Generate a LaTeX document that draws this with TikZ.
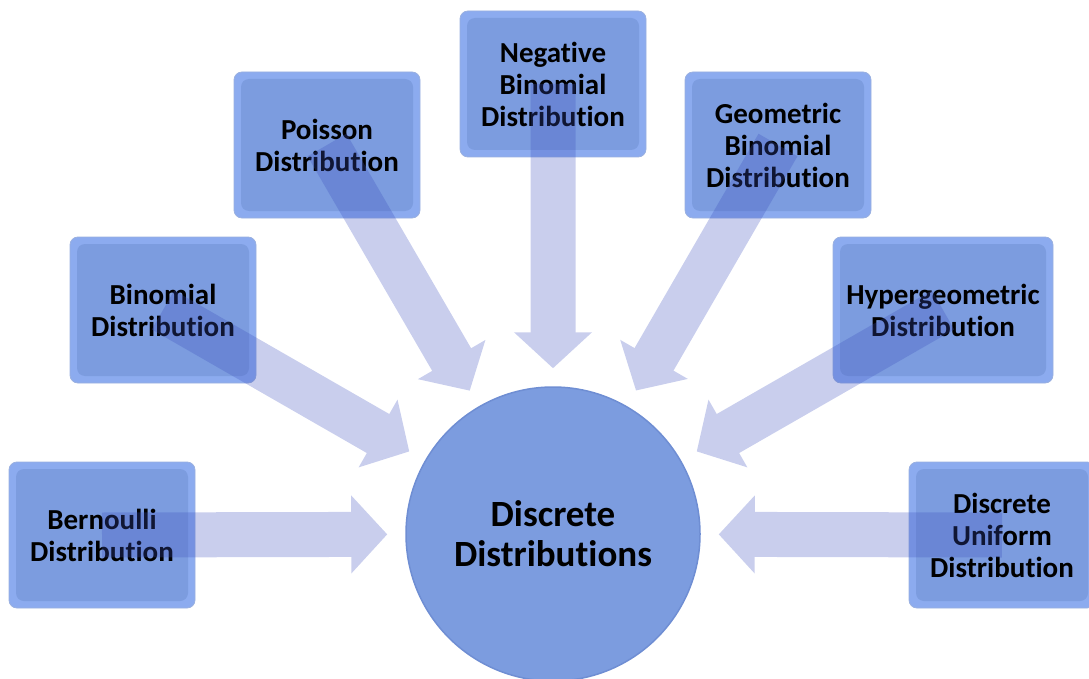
\documentclass[tikz,border=0pt]{standalone}
\usepackage{fontspec}
\setmainfont{Carlito}[Ligatures=NoCommon]
\usepackage{tikz}
\usetikzlibrary{positioning,arrows.meta}
\definecolor{boxfill}{HTML}{7C9CDF}
\definecolor{boxlight}{HTML}{8CABEF}
\definecolor{boxline}{HTML}{6F8ED3}
\definecolor{arrfill}{RGB}{60,80,190}
\tikzset{
  box/.style  = {rectangle, rounded corners=8pt, draw=boxline!70, line width=0.8pt,
                 fill=boxlight, align=center, minimum width=186pt, minimum height=146pt,
                 font=\bfseries\fontsize{29}{32}\selectfont, inner sep=2pt,
                 path picture={\fill[boxfill]
                   ([shift={(7pt,-7pt)}]path picture bounding box.north west) rectangle
                   ([shift={(-7pt,7pt)}]path picture bounding box.south east);}},
  widebox/.style = {box, minimum width=220pt},
  hub/.style  = {circle, minimum size=294pt, fill=boxfill, draw=boxline, line width=1.5pt,
                 align=center, font=\bfseries\fontsize{37}{40}\selectfont},
  fatarr/.style = {line width=45pt, draw=arrfill,
                   -{Triangle[width=76pt,length=36pt]}, shorten >=18pt},
}

\begin{document}
\begin{tikzpicture}[x=1pt,y=-1pt]
  \useasboundingbox (0,0) rectangle (1089,679);
  \clip (0,0) rectangle (1089,679);

  % ---------------- Hub ----------------
  \node[hub] (hub) at (553,534) {Discrete\\Distributions};

  % ---------------- Distributions ----------------
  \node[box]     (bern)  at (102,535) {Bernoulli\\Distribution};
  \node[box]     (binom) at (163,310) {Binomial\\Distribution};
  \node[box]     (pois)  at (327,145) {Poisson\\Distribution};
  \node[box]     (negb)  at (553,84)  {Negative\\Binomial\\Distribution};
  \node[box]     (geom)  at (778,145) {Geometric\\Binomial\\Distribution};
  \node[widebox] (hyper) at (943,310) {Hypergeometric\\Distribution};
  \node[box]     (unif)  at (1002,535) {Discrete\\Uniform\\Distribution};

  % ---------------- Arrows into the hub ----------------
  \begin{scope}[transparency group, opacity=0.28]
    \foreach \src in {bern,binom,pois,negb,geom,hyper,unif}
      \draw[fatarr] (\src.center) -- (hub);
  \end{scope}
\end{tikzpicture}
\end{document}
